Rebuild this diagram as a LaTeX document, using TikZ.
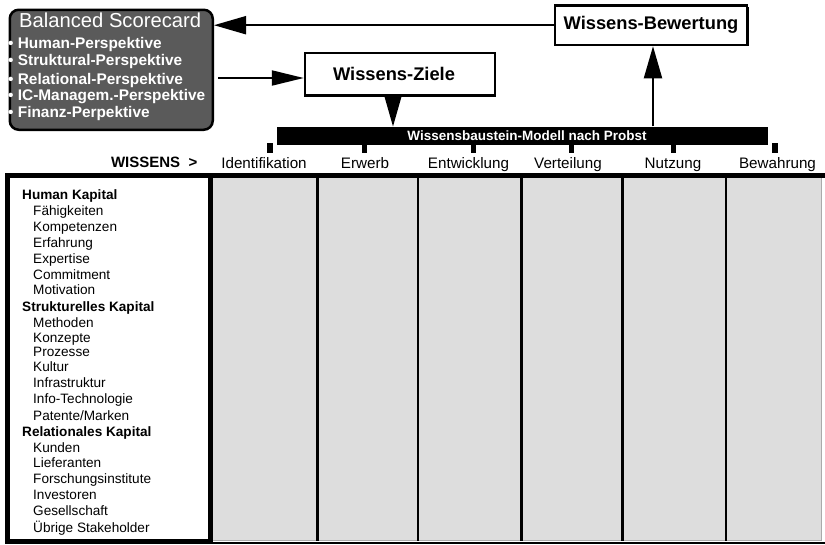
\documentclass[tikz,border=0pt]{standalone}
\usepackage{fontspec}
\setmainfont{Liberation Sans}
\usetikzlibrary{arrows.meta,shadows}
\definecolor{bscgray}{RGB}{90,90,90}
\definecolor{cellgray}{RGB}{221,221,221}
\definecolor{celledge}{RGB}{170,170,170}
\begin{document}
\begin{tikzpicture}[x=1pt,y=-1pt,
  bscbox/.style={draw=black, line width=2.5pt, fill=bscgray, rounded corners=9pt, inner sep=0},
  bultext/.style={anchor=base west, inner sep=0, text=white, font=\fontsize{15.4}{17}\selectfont\bfseries},
  wbox/.style={draw=black, line width=2.4pt, fill=white, inner sep=0,
     drop shadow={shadow xshift=1.4pt, shadow yshift=-1.4pt, opacity=1, fill=black},
     font=\fontsize{18.3}{21}\selectfont\bfseries},
  conn/.style={line width=2pt, draw=black},
  colh/.style={anchor=base, inner sep=0, font=\fontsize{15.2}{18}\selectfont},
  rowh/.style={anchor=base west, inner sep=0, font=\fontsize{13.6}{16}\selectfont\bfseries},
  rowi/.style={anchor=base west, inner sep=0, font=\fontsize{13.6}{16}\selectfont},
  tick/.style={fill=black}
]
\useasboundingbox (0,0) rectangle (825,544);

% ---------- Balanced Scorecard box ----------
\node[bscbox, minimum width=203pt, minimum height=120pt, anchor=north west] (bsc) at (8.5,8.5) {};
\node[anchor=base west, inner sep=0, text=white, font=\fontsize{20.2}{22}\selectfont] (bsct) at (19,27.3) {Balanced Scorecard};
\node[bultext] (b1) at (8,48.3) {• Human-Perspektive};
\node[bultext] (b2) at (8,65.7) {• Struktural-Perspektive};
\node[bultext] (b3) at (8,84) {• Relational-Perspektive};
\node[bultext] (b4) at (8,100.2) {• IC-Managem.-Perspektive};
\node[bultext] (b5) at (8,117.3) {• Finanz-Perpektive};

% ---------- Wissens boxes ----------
\node[wbox, minimum width=190pt, minimum height=42.5pt] (ziele) at (400,74.2) {Wissens-Ziele\hspace*{12pt}};
\node[wbox, minimum width=192.3pt, minimum height=39.7pt] (bew) at (651,25.2) {Wissens-Bewertung};

% ---------- Probst bar ----------
\node[fill=black, minimum width=491pt, minimum height=18.3pt, inner sep=0, text=white,
      font=\fontsize{13.5}{16}\selectfont\bfseries] (bar) at (522.7,135.8)
      {\hspace*{8.6pt}Wissensbaustein-Modell nach Probst};
\fill[tick] (267,142.7) rectangle (273,152.7);
\fill[tick] (362,144) rectangle (366.5,152.8);
\fill[tick] (471,144) rectangle (475.5,152.8);
\fill[tick] (569,144) rectangle (573.5,152.8);
\fill[tick] (671,144) rectangle (675.5,152.8);
\fill[tick] (772,142.7) rectangle (778,152.7);

% ---------- connectors ----------
\draw[conn, -{Triangle[length=32pt,width=18pt]}] (bew.west) -- (bew.west -| bsc.east);
\coordinate (m1) at (218,78);
\draw[conn, -{Triangle[length=32pt,width=15pt]}] (m1) -- (m1 -| ziele.west);
\coordinate (ux) at (653,0);
\draw[conn, -{Triangle[length=32pt,width=18pt]}] (bar.north -| ux) -- (bew.south -| ux);
\coordinate (dx) at (393,0);
\fill (ziele.south -| dx) ++(-8.5,0) -- ++(17,0) -- (bar.north -| dx) -- cycle;

% ---------- header row ----------
\node[anchor=base east, inner sep=0, font=\fontsize{15}{18}\selectfont\bfseries] (wis) at (197.5,167.8) {WISSENS\ \ >};
\node[colh] (c1) at (264,168.3) {Identifikation};
\node[colh] (c2) at (365,168.3) {Erwerb};
\node[colh] (c3) at (468.5,168.3) {Entwicklung};
\node[colh] (c4) at (568,168.3) {Verteilung};
\node[colh] (c5) at (673,168.3) {Nutzung};
\node[colh] (c6) at (777.5,168.3) {Bewahrung};

% ---------- table ----------
\fill[cellgray] (211,177) rectangle (822,541);
\draw[celledge, line width=1.3pt] (211,540.2) -- (821.3,540.2) -- (821.3,177);
\foreach \xx in {317.5,418,521.3,622.3,726}{
  \draw[line width=2.8pt] (\xx,176) -- (\xx,541);
}
\draw[line width=2.4pt] (211,542.8) -- (825,542.8);
\draw[line width=5pt] (5,175.5) -- (825,175.5);
\draw[line width=5pt, fill=white] (7.5,175.5) rectangle (210.8,541.5);

% ---------- row labels ----------
\node[rowh] (r1) at (22,199.3) {Human Kapital};
\node[rowi] (r2) at (33,215) {Fähigkeiten};
\node[rowi] (r3) at (33,231) {Kompetenzen};
\node[rowi] (r4) at (33,247.3) {Erfahrung};
\node[rowi] (r5) at (33,263) {Expertise};
\node[rowi] (r6) at (33,279) {Commitment};
\node[rowi] (r7) at (33,294.7) {Motivation};
\node[rowh] (r8) at (22,311) {Strukturelles Kapital};
\node[rowi] (r9) at (33,327) {Methoden};
\node[rowi] (r10) at (33,342.7) {Konzepte};
\node[rowi] (r11) at (33,356) {Prozesse};
\node[rowi] (r12) at (33,371.7) {Kultur};
\node[rowi] (r13) at (33,387.7) {Infrastruktur};
\node[rowi] (r14) at (33,403.7) {Info-Technologie};
\node[rowi] (r15) at (33,420) {Patente/Marken};
\node[rowh] (r16) at (22,436) {Relationales Kapital};
\node[rowi] (r17) at (33,452) {Kunden};
\node[rowi] (r18) at (33,467.7) {Lieferanten};
\node[rowi] (r19) at (33,483.7) {Forschungsinstitute};
\node[rowi] (r20) at (33,499.7) {Investoren};
\node[rowi] (r21) at (33,515.7) {Gesellschaft};
\node[rowi] (r22) at (33,532) {Übrige Stakeholder};
\end{tikzpicture}
\end{document}
